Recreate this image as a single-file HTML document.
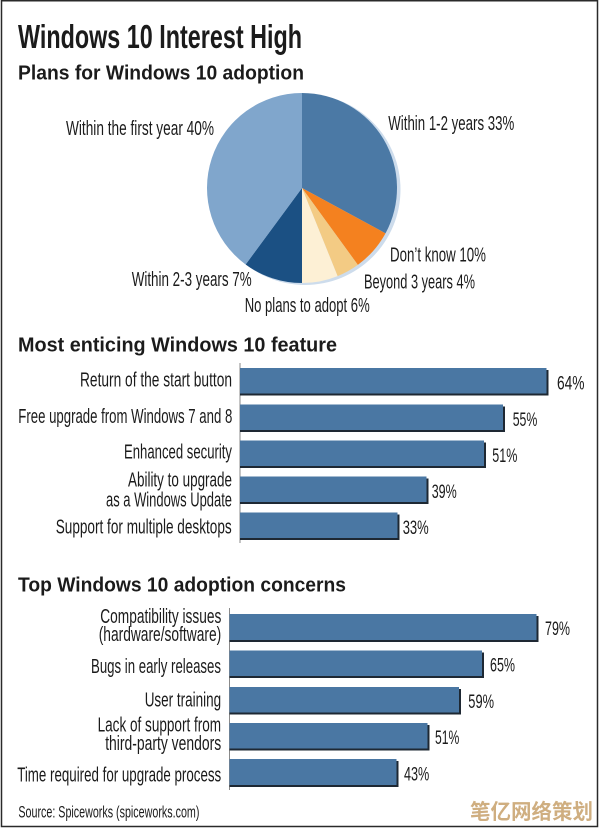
<!DOCTYPE html>
<html>
<head>
<meta charset="utf-8">
<style>
  html, body { margin: 0; padding: 0; background: #ffffff; }
  body { width: 600px; height: 829px; overflow: hidden; }
  svg { display: block; }
  .t { font-family: "Liberation Sans Narrow", "Liberation Sans", sans-serif; fill: #1b1b1b; }
  .h { font-family: "Liberation Sans", sans-serif; font-weight: bold; fill: #1b1b1b; }
</style>
</head>
<body>
<svg width="600" height="829" viewBox="0 0 600 829" xmlns="http://www.w3.org/2000/svg">
  <rect x="0" y="0" width="600" height="829" fill="#ffffff"/>
  <!-- outer border -->
  <rect x="1.5" y="0.75" width="596" height="825.75" fill="none" stroke="#2a2a2a" stroke-width="1.5"/>

  <!-- Title -->
  <text class="t" x="18" y="48" font-size="33" font-weight="bold" textLength="284" lengthAdjust="spacingAndGlyphs">Windows 10 Interest High</text>
  <text class="h" x="18" y="79.5" font-size="20" textLength="286" lengthAdjust="spacingAndGlyphs">Plans for Windows 10 adoption</text>

  <!-- Pie -->
  <circle cx="305" cy="189.5" r="95.5" fill="#cddcec"/>
  <path d="M302,188 L302,93 A95,95 0 0 1 385.49,233.33 Z" fill="#4b79a5"/>
  <path d="M302,188 L385.49,233.33 A95,95 0 0 1 357.84,264.86 Z" fill="#f4811f"/>
  <path d="M302,188 L357.84,264.86 A95,95 0 0 1 337.59,276.08 Z" fill="#f3cb84"/>
  <path d="M302,188 L337.59,276.08 A95,95 0 0 1 302,283 Z" fill="#fdf0d5"/>
  <path d="M302,188 L302,283 A95,95 0 0 1 245.63,264.47 Z" fill="#1b5083"/>
  <path d="M302,188 L245.63,264.47 A95,95 0 0 1 302,93 Z" fill="#80a6cc"/>

  <!-- Pie labels -->
  <text class="t" x="66" y="135" font-size="20.5" textLength="148" lengthAdjust="spacingAndGlyphs">Within the first year 40%</text>
  <text class="t" x="388.3" y="130" font-size="20.5" textLength="126" lengthAdjust="spacingAndGlyphs">Within 1-2 years 33%</text>
  <text class="t" x="390" y="261.7" font-size="20.5" textLength="96" lengthAdjust="spacingAndGlyphs">Don’t know 10%</text>
  <text class="t" x="364" y="288.5" font-size="20.5" textLength="111" lengthAdjust="spacingAndGlyphs">Beyond 3 years 4%</text>
  <text class="t" x="131.7" y="286" font-size="20.5" textLength="120" lengthAdjust="spacingAndGlyphs">Within 2-3 years 7%</text>
  <text class="t" x="244.7" y="312" font-size="20.5" textLength="125" lengthAdjust="spacingAndGlyphs">No plans to adopt 6%</text>

  <!-- Section 2 header -->
  <text class="h" x="18" y="351.7" font-size="20" textLength="319" lengthAdjust="spacingAndGlyphs">Most enticing Windows 10 feature</text>

  <!-- Section 1 axis -->
  <line x1="240" y1="363" x2="240" y2="543" stroke="#8a8a8a" stroke-width="1"/>

  <!-- Section 1 bars -->
  <g>
    <rect x="240" y="370" width="308.5" height="25.5" fill="#1e2833"/>
    <rect x="240" y="368" width="306.5" height="25.5" fill="#4a77a3"/>
    <rect x="240" y="406.5" width="265" height="25.5" fill="#1e2833"/>
    <rect x="240" y="404.5" width="263" height="25.5" fill="#4a77a3"/>
    <rect x="240" y="442.5" width="246" height="25.5" fill="#1e2833"/>
    <rect x="240" y="440.5" width="244" height="25.5" fill="#4a77a3"/>
    <rect x="240" y="478.5" width="188.5" height="25.5" fill="#1e2833"/>
    <rect x="240" y="476.5" width="186.5" height="25.5" fill="#4a77a3"/>
    <rect x="240" y="514.5" width="159.5" height="25.5" fill="#1e2833"/>
    <rect x="240" y="512.5" width="157.5" height="25.5" fill="#4a77a3"/>
  </g>
  <text class="t" x="557" y="389.5" font-size="19.5" textLength="27.5" lengthAdjust="spacingAndGlyphs">64%</text>
  <text class="t" x="512.7" y="426" font-size="19.5" textLength="24.6" lengthAdjust="spacingAndGlyphs">55%</text>
  <text class="t" x="492.3" y="462" font-size="19.5" textLength="25" lengthAdjust="spacingAndGlyphs">51%</text>
  <text class="t" x="431.7" y="498" font-size="19.5" textLength="25" lengthAdjust="spacingAndGlyphs">39%</text>
  <text class="t" x="402.7" y="534" font-size="19.5" textLength="26" lengthAdjust="spacingAndGlyphs">33%</text>

  <!-- Section 1 labels -->
  <text class="t" x="80" y="386.5" font-size="20" textLength="152" lengthAdjust="spacingAndGlyphs">Return of the start button</text>
  <text class="t" x="18.3" y="423" font-size="20" textLength="214" lengthAdjust="spacingAndGlyphs">Free upgrade from Windows 7 and 8</text>
  <text class="t" x="124" y="458.5" font-size="20" textLength="108" lengthAdjust="spacingAndGlyphs">Enhanced security</text>
  <text class="t" x="128" y="486.5" font-size="20" textLength="104" lengthAdjust="spacingAndGlyphs">Ability to upgrade</text>
  <text class="t" x="106" y="506.5" font-size="20" textLength="126" lengthAdjust="spacingAndGlyphs">as a Windows Update</text>
  <text class="t" x="55.7" y="533.5" font-size="20" textLength="176" lengthAdjust="spacingAndGlyphs">Support for multiple desktops</text>

  <!-- Section 3 header -->
  <text class="h" x="18" y="591.7" font-size="20" textLength="328" lengthAdjust="spacingAndGlyphs">Top Windows 10 adoption concerns</text>

  <!-- Section 2 axis -->
  <line x1="229.5" y1="608" x2="229.5" y2="790" stroke="#8a8a8a" stroke-width="1"/>

  <!-- Section 2 bars -->
  <g>
    <rect x="229.5" y="616" width="309" height="26" fill="#1e2833"/>
    <rect x="229.5" y="614" width="307" height="26" fill="#4a77a3"/>
    <rect x="229.5" y="652.5" width="254.5" height="25.5" fill="#1e2833"/>
    <rect x="229.5" y="650.5" width="252.5" height="25.5" fill="#4a77a3"/>
    <rect x="229.5" y="689" width="231.5" height="25.5" fill="#1e2833"/>
    <rect x="229.5" y="687" width="229.5" height="25.5" fill="#4a77a3"/>
    <rect x="229.5" y="725" width="200" height="25.5" fill="#1e2833"/>
    <rect x="229.5" y="723" width="198" height="25.5" fill="#4a77a3"/>
    <rect x="229.5" y="761" width="169" height="26" fill="#1e2833"/>
    <rect x="229.5" y="759" width="167" height="26" fill="#4a77a3"/>
  </g>
  <text class="t" x="545" y="635" font-size="19.5" textLength="25" lengthAdjust="spacingAndGlyphs">79%</text>
  <text class="t" x="490" y="671.5" font-size="19.5" textLength="25" lengthAdjust="spacingAndGlyphs">65%</text>
  <text class="t" x="468.3" y="708" font-size="19.5" textLength="25.7" lengthAdjust="spacingAndGlyphs">59%</text>
  <text class="t" x="435" y="744" font-size="19.5" textLength="24.3" lengthAdjust="spacingAndGlyphs">51%</text>
  <text class="t" x="404" y="780.5" font-size="19.5" textLength="25.3" lengthAdjust="spacingAndGlyphs">43%</text>

  <!-- Section 2 labels -->
  <text class="t" x="100.3" y="623" font-size="20" textLength="121" lengthAdjust="spacingAndGlyphs">Compatibility issues</text>
  <text class="t" x="98.7" y="641" font-size="20" textLength="122.5" lengthAdjust="spacingAndGlyphs">(hardware/software)</text>
  <text class="t" x="91" y="673" font-size="20" textLength="130" lengthAdjust="spacingAndGlyphs">Bugs in early releases</text>
  <text class="t" x="144.7" y="706.5" font-size="20" textLength="76.5" lengthAdjust="spacingAndGlyphs">User training</text>
  <text class="t" x="97.6" y="731.5" font-size="20" textLength="123.5" lengthAdjust="spacingAndGlyphs">Lack of support from</text>
  <text class="t" x="105.2" y="750" font-size="20" textLength="116" lengthAdjust="spacingAndGlyphs">third-party vendors</text>
  <text class="t" x="17.2" y="781.5" font-size="20" textLength="204" lengthAdjust="spacingAndGlyphs">Time required for upgrade process</text>

  <!-- Source -->
  <text class="t" x="18.4" y="817.5" font-size="16.5" textLength="181" lengthAdjust="spacingAndGlyphs">Source: Spiceworks (spiceworks.com)</text>

  <!-- Watermark -->
  <text x="470" y="819" font-size="21" font-weight="bold" fill="#cfae80" font-family="'Liberation Sans', 'Noto Sans CJK SC', sans-serif" textLength="123" lengthAdjust="spacingAndGlyphs">笔亿网络策划</text>
</svg>
</body>
</html>
